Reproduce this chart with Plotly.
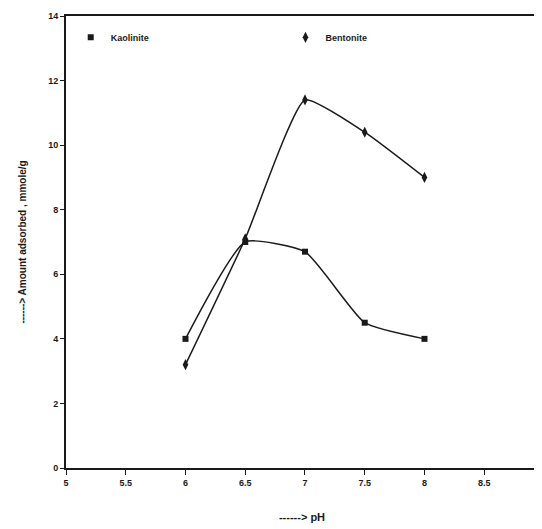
import plotly.graph_objects as go

ph = [6, 6.5, 7, 7.5, 8]
series_a_name = "Kaolinite"
series_a = [4.0, 7.0, 6.7, 4.5, 4.0]
series_b_name = "Bentonite"
series_b = [3.2, 7.1, 11.4, 10.4, 9.0]
x_ticks = [5, 5.5, 6, 6.5, 7, 7.5, 8, 8.5]
y_ticks = [0, 2, 4, 6, 8, 10, 12, 14]

ink = "#1a1a1a"
tick_font = dict(family="Liberation Sans", size=9, color=ink, weight="bold")

fig = go.Figure()
# curves
fig.add_trace(go.Scatter(x=ph, y=series_a, mode="lines", line=dict(color=ink, width=1.5, shape="spline", smoothing=0.5),
                         showlegend=False, hoverinfo="skip"))
fig.add_trace(go.Scatter(x=ph, y=series_b, mode="lines", line=dict(color=ink, width=1.5, shape="spline", smoothing=0.45),
                         showlegend=False, hoverinfo="skip"))
# markers (legend entries)
fig.add_trace(go.Scatter(x=ph, y=series_a, mode="markers", name=series_a_name,
                         marker=dict(symbol="square", size=6, color=ink), legend="legend"))
fig.add_trace(go.Scatter(x=ph, y=series_b, mode="markers", name=series_b_name,
                         marker=dict(symbol="diamond-tall", size=8, color=ink), legend="legend2"))

fig.update_layout(
    width=534, height=521,
    margin=dict(l=58, r=4, t=8, b=61),
    paper_bgcolor="white", plot_bgcolor="white",
    font=tick_font,
    legend=dict(x=0.01, y=0.985, xanchor="left", yanchor="top", bgcolor="rgba(0,0,0,0)",
                font=tick_font, itemwidth=30),
    legend2=dict(x=0.465, y=0.985, xanchor="left", yanchor="top", bgcolor="rgba(0,0,0,0)",
                 font=tick_font, itemwidth=30),
    xaxis=dict(range=[5, 8.95], tickvals=x_ticks, ticktext=[f"{v:g}" for v in x_ticks],
               showline=True, mirror=True, linecolor=ink, linewidth=2, automargin=False,
               ticks="outside", ticklen=5, tickcolor=ink, showgrid=False, zeroline=False,
               tickfont=tick_font,
               title=dict(text="------> pH", font=dict(family="Liberation Sans", size=11, color=ink, weight="bold"), standoff=27)),
    yaxis=dict(range=[0, 14], tickvals=y_ticks, showline=True, mirror=False, linecolor=ink, linewidth=2, automargin=False,
               ticks="outside", ticklen=4, tickcolor=ink, showgrid=False, zeroline=False,
               tickfont=tick_font,
               title=dict(text="------> Amount adsorbed , mmole/g", font=dict(family="Liberation Sans", size=10, color=ink, weight="bold"), standoff=20)),
)

fig.write_html("out.html")
